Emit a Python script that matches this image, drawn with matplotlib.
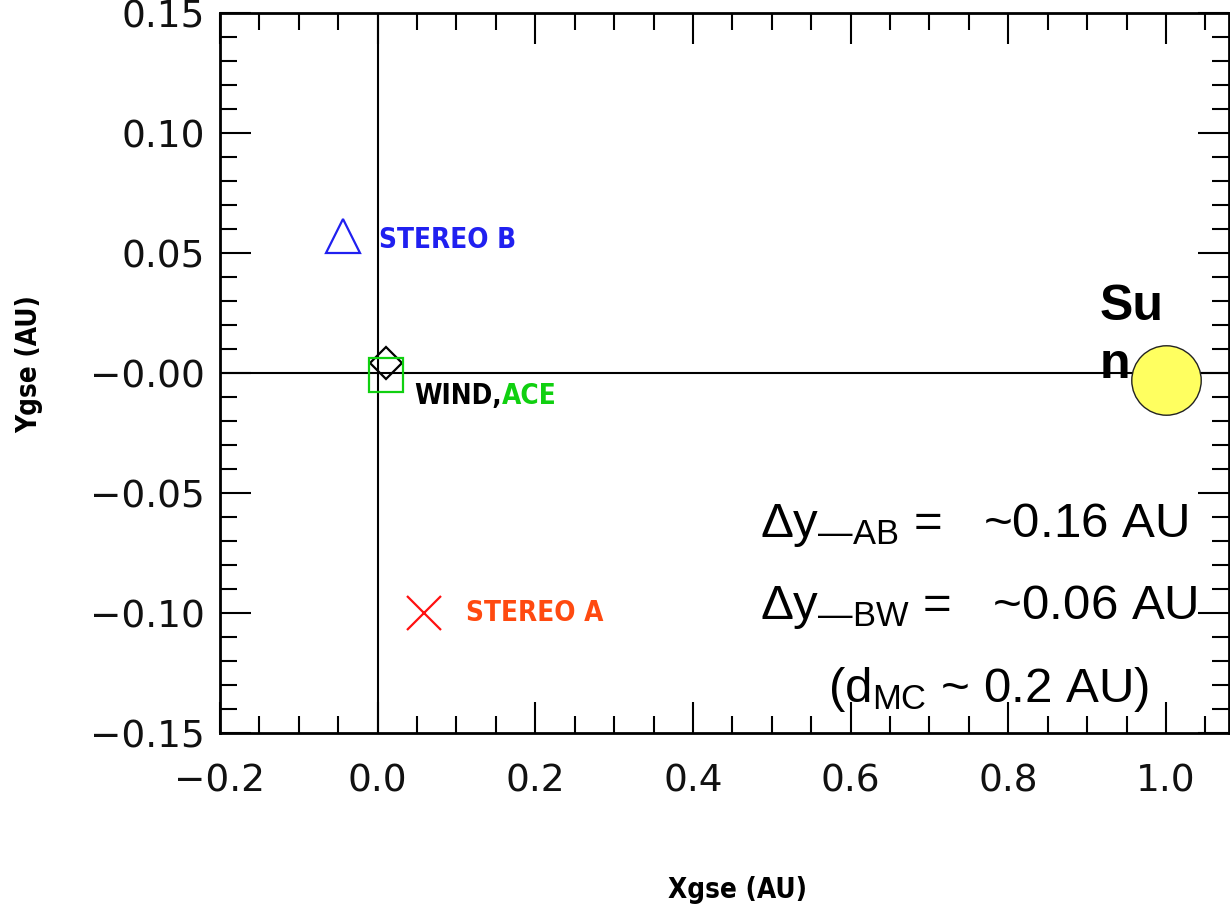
import matplotlib
matplotlib.use("Agg")
import matplotlib.pyplot as plt
from matplotlib.ticker import MultipleLocator

# spacecraft positions (AU, GSE)
craft_names = ["STEREO B", "WIND", "ACE", "STEREO A"]
craft_x = [-0.044, 0.010, 0.010, 0.059]
craft_y = [0.057, 0.004, -0.001, -0.100]
craft_markers = ["^", "D", "s", "x"]
craft_colors = ["#2020f0", "black", "#10d010", "#ff1010"]
craft_sizes = [25, 16, 24, 24]

sun_x = [1.0]
sun_y = [-0.003]

xticks = [-0.2, 0.0, 0.2, 0.4, 0.6, 0.8, 1.0]
xtick_labels = ["\u22120.2", "0.0", "0.2", "0.4", "0.6", "0.8", "1.0"]
yticks = [0.15, 0.10, 0.05, 0.0, -0.05, -0.10, -0.15]
ytick_labels = ["0.15", "0.10", "0.05", "\u22120.00", "\u22120.05", "\u22120.10", "\u22120.15"]

plt.rcParams['mathtext.fontset'] = 'custom'
plt.rcParams['mathtext.rm'] = 'Liberation Sans'
plt.rcParams['mathtext.it'] = 'Liberation Sans'

tickfont = 'DejaVu Sans'

fig = plt.figure(figsize=(12.3, 9.1), dpi=100)
ax = fig.add_axes([220/1230, 177/910, 1009/1230, 720/910])

ax.set_xlim(-0.2, 1.08)
ax.set_ylim(-0.15, 0.15)

ax.axvline(0, color='black', lw=1.5, zorder=1)
ax.axhline(0, color='black', lw=1.5, zorder=1)

for x, y, m, c, s in zip(craft_x, craft_y, craft_markers, craft_colors, craft_sizes):
  ax.plot(x, y, marker=m, ms=s, mfc='none', mec=c, mew=1.6, ls='none', zorder=3)

ax.plot(sun_x, sun_y, marker='o', ms=50, mfc='#ffff60', mec='#222222', mew=1.0, ls='none', zorder=3)

lab = dict(fontsize=20, fontweight='bold', family=tickfont, fontstretch='condensed', va='center')
ax.text(0.002, 0.0555, "STEREO B", color=craft_colors[0], **lab)
t = ax.text(0.047, -0.0095, "WIND,", color='black', **lab)
ax.annotate("ACE", xycoords=t, xy=(1, 0.5), va='center', color=craft_colors[2],
            fontsize=20, fontweight='bold', family=tickfont, fontstretch='condensed')
ax.text(0.112, -0.100, "STEREO A", color='#ff4a10', **lab)

ax.text(0.916, 0.0155, "Su\nn", fontsize=36, fontweight='bold', family='Liberation Sans',
        ha='left', va='center', linespacing=1.35, zorder=4)

big = dict(fontsize=35.5, family='Liberation Sans', ha='left', va='center')
ax.text(0.485, -0.0635, "$\\Delta$y$_{\\mathrm{\u2014AB}}$ =   ~0.16 AU", **big)
ax.text(0.485, -0.0975, "$\\Delta$y$_{\\mathrm{\u2014BW}}$ =   ~0.06 AU", **big)
ax.text(0.571, -0.132, "(d$_{\\mathrm{MC}}$ ~ 0.2 AU)", **big)

ax.set_xticks(xticks)
ax.set_xticklabels(xtick_labels)
ax.set_yticks(yticks)
ax.set_yticklabels(ytick_labels)
ax.xaxis.set_minor_locator(MultipleLocator(0.05))
ax.yaxis.set_minor_locator(MultipleLocator(0.01))
ax.tick_params(which='both', direction='in', top=True, right=True, width=1.5, color='black')
ax.tick_params(which='major', length=22)
ax.tick_params(which='minor', length=12)
ax.tick_params(axis='x', which='major', pad=22)
ax.tick_params(axis='y', which='major', pad=11)
for lbl in ax.get_xticklabels() + ax.get_yticklabels():
  lbl.set_fontsize(27)
  lbl.set_family(tickfont)
  lbl.set_color('#111111')
for sp in ax.spines.values():
  sp.set_linewidth(2)

ax.set_xlabel("Xgse (AU)", fontsize=20, fontweight='bold', family=tickfont, fontstretch='condensed')
ax.set_ylabel("Ygse (AU)", fontsize=20, fontweight='bold', family=tickfont, fontstretch='condensed')
ax.xaxis.set_label_coords((738 - 220) / 1009, (733 - 876) / 720)
ax.yaxis.set_label_coords((43 - 220) / 1009, (733 - 364) / 720)

fig.savefig("out.png", dpi=100)
